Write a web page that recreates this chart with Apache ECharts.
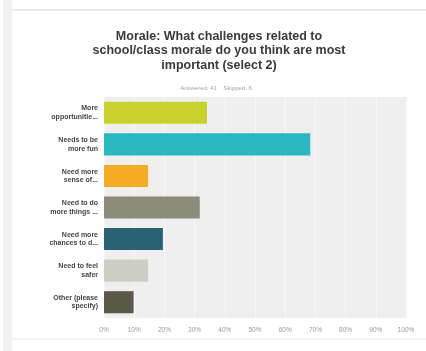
<!DOCTYPE html>
<html>
<head>
<meta charset="utf-8">
<script src="https://cdn.jsdelivr.net/npm/echarts@6/dist/echarts.min.js"></script>
<style>
html,body{margin:0;padding:0;background:#fff;}
#chart{width:426px;height:351px;}
</style>
</head>
<body>
<div id="chart"></div>
<script>
var categories = ["More\nopportunitie...", "Needs to be\nmore fun", "Need more\nsense of...", "Need to do\nmore things ...", "Need more\nchances to d...", "Need to feel\nsafer", "Other (please\nspecify)"];
var values = [34.1, 68.3, 14.6, 31.7, 19.5, 14.6, 9.8];
var colors = ["#c8d22c", "#2bb8c1", "#f5ac25", "#8d8b7c", "#2b6273", "#cfcec2", "#5b594a"];
var tickValues = [0, 10, 20, 30, 40, 50, 60, 70, 80, 90, 100];
var titleText = "Morale: What challenges related to\nschool/class morale do you think are most\nimportant (select 2)";
var subText = "Answered: 41    Skipped: 6";

var chart = echarts.init(document.getElementById('chart'), null, {renderer: 'canvas'});
chart.setOption({
  animation: false,
  backgroundColor: '#ffffff',
  graphic: [
    {type: 'rect', shape: {x: 3, y: 0, width: 9, height: 351}, style: {fill: '#f1f1f1'}, z: -10},
    {type: 'rect', shape: {x: 12, y: 9, width: 414, height: 2}, style: {fill: '#ececec'}, z: -10},
    {type: 'rect', shape: {x: 12, y: 338, width: 414, height: 2}, style: {fill: '#f3f3f3'}, z: -10}
  ],
  title: [
    {
      text: titleText,
      left: 214, textAlign: 'center', top: 24,
      textStyle: {fontFamily: 'Liberation Sans', fontSize: 12.5, fontWeight: 'bold', color: '#3a3a3a', lineHeight: 14.5}
    },
    {
      text: subText,
      left: 211, textAlign: 'center', top: 80,
      textStyle: {fontFamily: 'Liberation Sans', fontSize: 6, fontWeight: 'normal', color: '#a5a5a5'}
    }
  ],
  grid: {
    left: 104, right: 20, top: 97, bottom: 33,
    show: true, backgroundColor: '#efefef', borderWidth: 0
  },
  xAxis: {
    type: 'value', min: 0, max: 100, interval: 10,
    axisLine: {show: false}, axisTick: {show: false},
    splitLine: {show: true, lineStyle: {color: '#f8f8f8', width: 1}},
    axisLabel: {formatter: '{value}%', fontFamily: 'Liberation Sans', fontSize: 6.5, color: '#9a9a9a', margin: 9}
  },
  yAxis: {
    type: 'category', data: categories, inverse: true,
    axisLine: {show: false}, axisTick: {show: false},
    axisLabel: {fontFamily: 'Liberation Sans', fontSize: 7, fontWeight: 'bold', color: '#444444', lineHeight: 8.5, margin: 6, align: 'right'}
  },
  series: [{
    type: 'bar',
    data: values.map(function (v, i) { return {value: v, itemStyle: {color: colors[i]}}; }),
    barCategoryGap: '30%'
  }]
});
</script>
</body>
</html>
